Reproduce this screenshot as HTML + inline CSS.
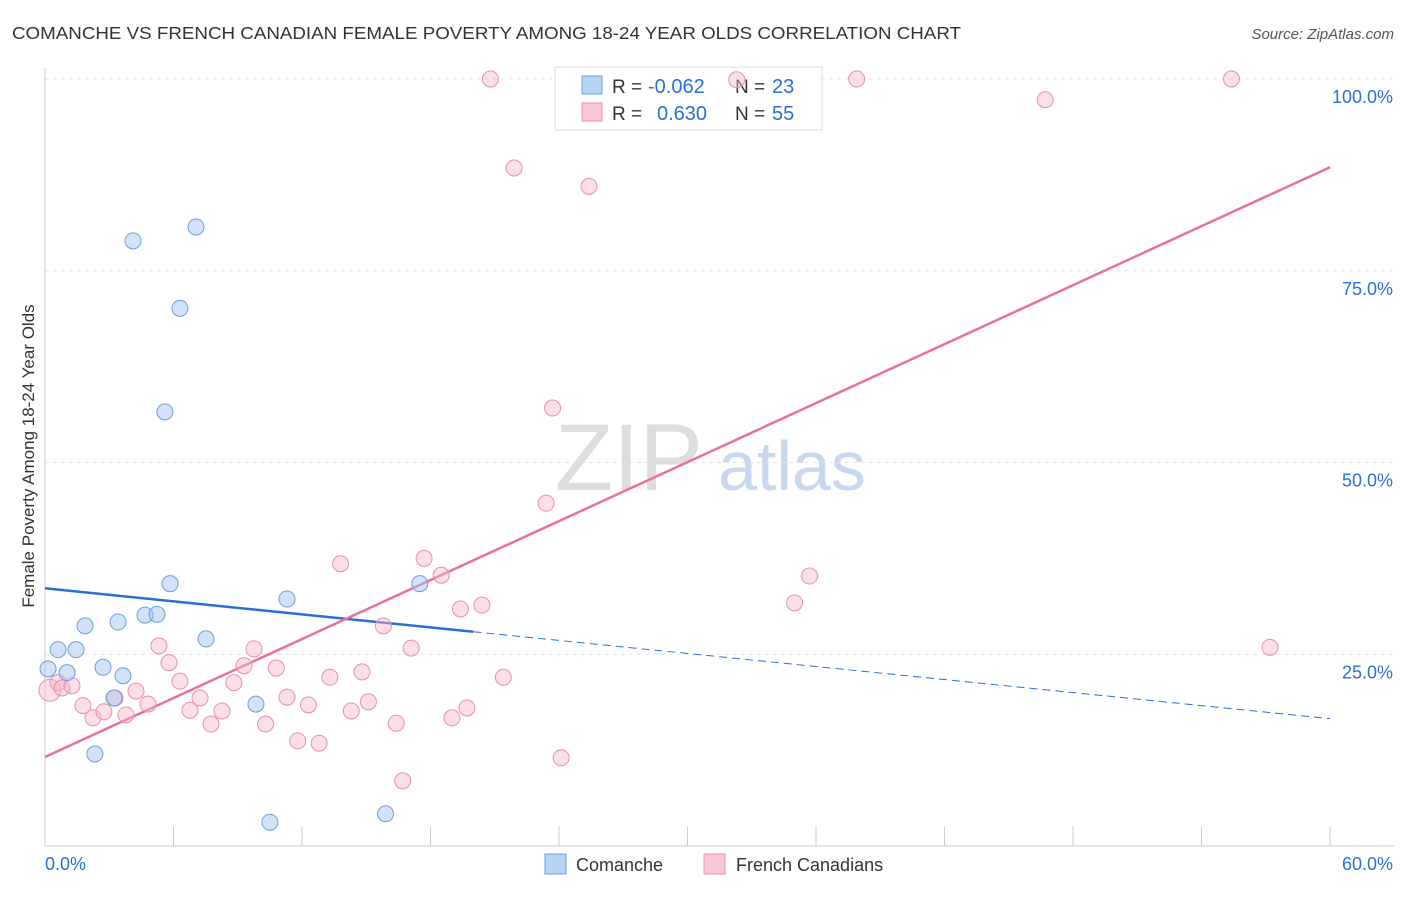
<!DOCTYPE html>
<html><head><meta charset="utf-8"><style>
body{margin:0;background:#fff;font-family:"Liberation Sans",sans-serif;}
svg text{font-family:"Liberation Sans",sans-serif;}
</style></head><body>
<svg id="c" width="1406" height="892" xmlns="http://www.w3.org/2000/svg">
<text x="12" y="39" font-size="17.5" fill="#333" textLength="949" lengthAdjust="spacingAndGlyphs">COMANCHE VS FRENCH CANADIAN FEMALE POVERTY AMONG 18-24 YEAR OLDS CORRELATION CHART</text>
<text x="1394" y="39" font-size="15" fill="#555" text-anchor="end" font-style="italic">Source: ZipAtlas.com</text>
<text x="34" y="456" font-size="17" fill="#333" text-anchor="middle" transform="rotate(-90 34 456)">Female Poverty Among 18-24 Year Olds</text>
<text x="555" y="490" font-size="95" fill="#ddd" font-family="Liberation Serif">ZIP</text>
<text x="718" y="490" font-size="70" fill="#c8d8ee">atlas</text>
<g id="grid"></g>
<g>
<rect x="555" y="67" width="267" height="63" fill="#fff" stroke="#ddd"/>
<rect x="582" y="76" width="20" height="18" fill="#b8d4f5" stroke="#6a9fe0"/>
<rect x="582" y="103" width="20" height="18" fill="#f9c6d5" stroke="#e890aa"/>
<text x="612" y="93" font-size="19" fill="#333">R =</text>
<text x="648" y="93" font-size="20" fill="#2a6fd6">-0.062</text>
<text x="735" y="93" font-size="19" fill="#333">N =</text>
<text x="772" y="93" font-size="20" fill="#2a6fd6">23</text>
<text x="612" y="120" font-size="19" fill="#333">R =</text>
<text x="657" y="120" font-size="20" fill="#2a6fd6">0.630</text>
<text x="735" y="120" font-size="19" fill="#333">N =</text>
<text x="772" y="120" font-size="20" fill="#2a6fd6">55</text>
</g>
<g id="lines"></g><g id="pts"></g>
<g>
<rect x="545" y="854" width="21" height="20" fill="#b8d4f5" stroke="#6a9fe0"/>
<text x="576" y="871" font-size="18" fill="#333">Comanche</text>
<rect x="704" y="854" width="21" height="20" fill="#f9c6d5" stroke="#e890aa"/>
<text x="736" y="871" font-size="18" fill="#333">French Canadians</text>
</g>
</svg>
<script>
const yTicks=[25,50,75,100];
const yTickLabels=["25.0%","50.0%","75.0%","100.0%"];
const xTicks=[0,6,12,18,24,30,36,42,48,54,60];
const blueX=[0.14,0.61,1.03,1.45,1.87,2.33,2.71,3.22,3.41,3.64,4.11,4.67,5.23,5.60,5.84,6.30,7.05,7.52,9.85,10.5,11.3,15.9,17.5];
const blueY=[23.1,25.6,22.6,25.6,28.7,12.0,23.3,19.3,29.2,22.2,78.9,30.1,30.2,56.6,34.2,70.1,80.7,27.0,18.5,3.1,32.2,4.2,34.2];
const pinkX=[0.23,0.61,0.79,1.26,1.77,2.24,2.75,3.27,3.78,4.25,4.81,5.32,5.79,6.30,6.77,7.24,7.75,8.26,8.82,9.29,9.76,10.3,10.8,11.3,11.8,12.3,12.8,13.3,13.8,14.3,14.8,15.1,15.8,16.4,16.7,17.1,17.7,18.5,19.0,19.4,19.7,20.4,20.8,21.4,21.9,23.4,23.7,24.1,25.4,32.3,35.0,35.7,37.9,46.7,55.4,57.2];
const pinkY=[20.3,21.3,20.6,20.9,18.3,16.7,17.5,19.3,17.1,20.2,18.5,26.1,23.9,21.5,17.7,19.3,15.9,17.6,21.3,23.5,25.7,15.9,23.2,19.4,13.7,18.4,13.4,22.0,36.8,17.6,22.7,18.8,28.7,16.0,8.5,25.8,37.5,35.3,16.7,30.9,18.0,31.4,100,22.0,88.4,44.7,57.1,11.5,86.0,99.9,31.7,35.2,100,97.3,100,25.9];
const blueLine=[33.6,16.6];
const pinkLine=[11.6,88.5];
const blueSolidEnd=20;
const X=v=>45+v*1285/60, Y=v=>846-v*7.67;
const NS="http://www.w3.org/2000/svg";
function mk(p,t,a){const e=document.createElementNS(NS,t);for(const k in a)e.setAttribute(k,a[k]);p.appendChild(e);return e;}
const g=document.getElementById('grid');
yTicks.forEach((t,i)=>{
 const l=mk(g,'line',{x1:45,x2:1394,y1:Y(t),y2:Y(t),stroke:'#e2e2e2','stroke-dasharray':'4,4'});
 
 
 const tx=mk(g,'text',{x:1393,y:Y(t)+24,'font-size':18,fill:'#2a6fd6','text-anchor':'end'});tx.textContent=yTickLabels[i];
 
 
});
mk(g,'line',{x1:45,x2:45,y1:68,y2:846,stroke:'#ccc'});
mk(g,'line',{x1:45,x2:1394,y1:846,y2:846,stroke:'#ccc'});
xTicks.forEach(t=>{const l=mk(g,'line',{x1:X(t),x2:X(t),y1:826,y2:846,stroke:'#ccc'});
 
 });
const x0=mk(g,'text',{x:45,y:870,'font-size':18,fill:'#2a6fd6'});x0.textContent='0.0%';


const x1=mk(g,'text',{x:1393,y:870,'font-size':18,fill:'#2a6fd6','text-anchor':'end'});x1.textContent='60.0%';


const pg=document.getElementById('pts');
pinkX.forEach((x,i)=>{const c=mk(pg,'circle',{cx:X(x),cy:Y(pinkY[i]),r:i==0?11:8,fill:'rgba(247,183,201,0.45)',stroke:'#e890aa','stroke-width':1});
 
 });
blueX.forEach((x,i)=>{const c=mk(pg,'circle',{cx:X(x),cy:Y(blueY[i]),r:8,fill:'rgba(168,200,240,0.5)',stroke:'#6a9fe0','stroke-width':1});
 
 });
const lg=document.getElementById('lines');
const bAt=v=>blueLine[0]+(blueLine[1]-blueLine[0])*v/60;
const b1=mk(lg,'line',{x1:X(0),y1:Y(bAt(0)),x2:X(blueSolidEnd),y2:Y(bAt(blueSolidEnd)),stroke:'#2a6fd6','stroke-width':2.5});


const b2=mk(lg,'line',{x1:X(blueSolidEnd),y1:Y(bAt(blueSolidEnd)),x2:X(60),y2:Y(bAt(60)),stroke:'#2a6fd6','stroke-width':1,'stroke-dasharray':'8,5'});


const p1=mk(lg,'line',{x1:X(0),y1:Y(pinkLine[0]),x2:X(60),y2:Y(pinkLine[1]),stroke:'#e8709a','stroke-width':2.5});


</script>
</body></html>
